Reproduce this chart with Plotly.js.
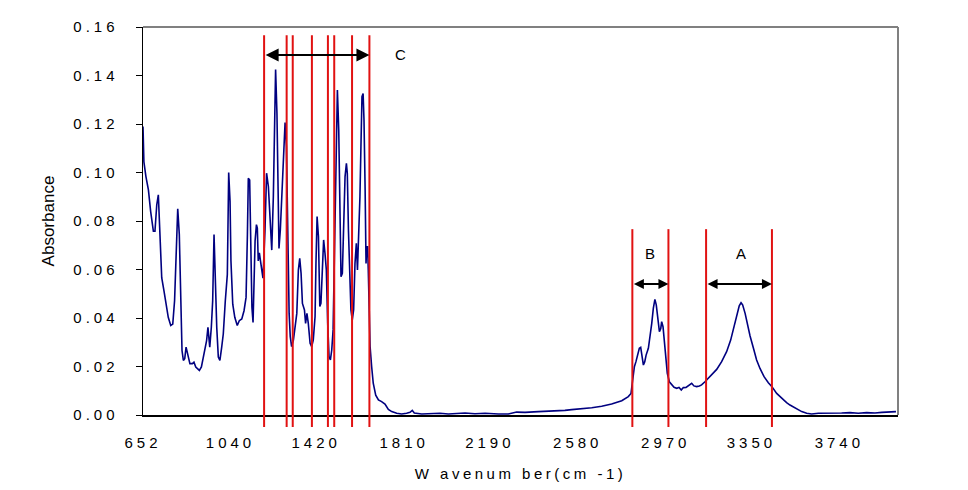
<!DOCTYPE html>
<html>
<head>
<meta charset="utf-8">
<script src="https://cdn.plot.ly/plotly-3.0.1.min.js"></script>
<style>
  html, body { margin: 0; padding: 0; background: #fff; }
  #chart { width: 968px; height: 490px; }
  .xtick text, .ytick text { letter-spacing: 4px; }
  .g-xtitle text { letter-spacing: 3.5px; }
</style>
</head>
<body>
<div id="chart"></div>
<script>
// Spectrum: wavenumber (cm-1) and absorbance
const wavenumber = [
  652,656,665,676,686,698,705,713,720,727,735,745,754,764,775,784,792,801,806,813,
  819,825,831,837,843,850,860,871,878,886,893,902,911,920,928,934,940,948,955,961,
  967,973,979,986,993,1001,1008,1017,1026,1032,1038,1042,1050,1059,1070,1079,1090,1100,1109,1115,
  1119,1125,1129,1135,1140,1144,1149,1155,1159,1163,1168,1172,1178,1184,1193,1200,1208,1214,1223,1230,
  1234,1240,1246,1252,1255,1261,1267,1274,1282,1288,1294,1300,1305,1311,1319,1326,1334,1341,1347,1353,
  1359,1368,1373,1379,1385,1393,1400,1407,1415,1419,1424,1430,1436,1441,1447,1453,1459,1465,1471,1477,
  1483,1489,1495,1501,1508,1514,1520,1526,1530,1536,1542,1548,1554,1558,1563,1569,1574,1580,1586,1592,
  1598,1603,1608,1614,1619,1623,1628,1632,1637,1641,1644,1648,1651,1655,1659,1666,1673,1684,1696,1710,
  1725,1740,1755,1777,1799,1821,1836,1846,1855,1888,1932,1969,2006,2050,2080,2124,2169,2228,2272,2309,
  2346,2405,2464,2523,2553,2597,2642,2686,2730,2775,2804,2816,2823,2831,2838,2846,2853,2859,2865,2871,
  2877,2883,2893,2900,2908,2915,2922,2928,2934,2942,2948,2952,2958,2964,2971,2977,2986,2996,3007,3019,
  3029,3039,3048,3060,3072,3085,3095,3107,3119,3129,3144,3159,3174,3196,3218,3240,3258,3273,3285,3296,
  3304,3311,3322,3332,3344,3359,3373,3388,3406,3425,3441,3462,3484,3506,3521,3529,3551,3573,3595,3617,
  3647,3676,3713,3750,3787,3824,3861,3898,3928,3965,3991
];
const absorbance = [
  0.1190,0.1044,0.0983,0.0928,0.0839,0.0758,0.0758,0.0867,0.0908,0.0758,0.0566,0.0512,0.0457,0.0403,0.0369,0.0375,0.0471,0.0676,0.0850,0.0744,
  0.0471,0.0266,0.0225,0.0232,0.0280,0.0253,0.0212,0.0212,0.0218,0.0198,0.0191,0.0184,0.0198,0.0239,0.0266,0.0307,0.0362,0.0280,0.0362,0.0471,
  0.0744,0.0526,0.0362,0.0239,0.0225,0.0280,0.0334,0.0471,0.0580,0.1000,0.0880,0.0635,0.0457,0.0403,0.0369,0.0389,0.0396,0.0430,0.0485,0.0744,
  0.0976,0.0969,0.0676,0.0444,0.0382,0.0566,0.0717,0.0785,0.0771,0.0635,0.0669,0.0642,0.0600,0.0564,0.0763,0.0997,0.0942,0.0818,0.0680,0.0900,
  0.1175,0.1425,0.1244,0.0763,0.0687,0.0763,0.0900,0.1065,0.1206,0.1107,0.0694,0.0419,0.0323,0.0282,0.0309,0.0351,0.0419,0.0598,0.0646,0.0584,
  0.0460,0.0433,0.0378,0.0419,0.0378,0.0296,0.0282,0.0309,0.0406,0.0625,0.0818,0.0735,0.0447,0.0460,0.0625,0.0722,0.0667,0.0598,0.0378,0.0241,
  0.0227,0.0268,0.0351,0.0625,0.1038,0.1340,0.1175,0.0818,0.0570,0.0584,0.0763,0.0983,0.1038,0.0997,0.0763,0.0543,0.0433,0.0392,0.0433,0.0625,
  0.0708,0.0598,0.0722,0.0900,0.1134,0.1313,0.1326,0.1217,0.0928,0.0625,0.0694,0.0694,0.0598,0.0450,0.0282,0.0199,0.0131,0.0082,0.0062,0.0055,
  0.0045,0.0023,0.0014,0.0007,0.0004,0.0007,0.0011,0.0019,0.0008,0.0004,0.0005,0.0007,0.0004,0.0007,0.0008,0.0005,0.0007,0.0004,0.0004,0.0012,
  0.0011,0.0014,0.0015,0.0019,0.0022,0.0025,0.0030,0.0036,0.0045,0.0059,0.0076,0.0089,0.0131,0.0199,0.0220,0.0247,0.0275,0.0279,0.0247,0.0206,
  0.0220,0.0247,0.0275,0.0316,0.0378,0.0440,0.0477,0.0454,0.0406,0.0344,0.0357,0.0385,0.0364,0.0309,0.0227,0.0172,0.0137,0.0128,0.0114,0.0110,
  0.0114,0.0103,0.0113,0.0114,0.0122,0.0131,0.0120,0.0117,0.0120,0.0124,0.0137,0.0151,0.0165,0.0188,0.0220,0.0261,0.0309,0.0364,0.0412,0.0450,
  0.0463,0.0454,0.0419,0.0371,0.0326,0.0275,0.0227,0.0192,0.0158,0.0133,0.0117,0.0089,0.0069,0.0051,0.0041,0.0037,0.0023,0.0014,0.0007,0.0004,
  0.0007,0.0007,0.0005,0.0008,0.0010,0.0007,0.0010,0.0008,0.0011,0.0011,0.0014
];

// Axis ticks
const xTickValues = [652, 1040, 1420, 1810, 2190, 2580, 2970, 3350, 3740];
const yTickValues = [0, 0.02, 0.04, 0.06, 0.08, 0.10, 0.12, 0.14, 0.16];

// Band boundary markers (cm-1)
const regionCLines = [1189, 1289, 1316, 1401, 1472, 1500, 1579, 1656];
const regionBLines = [2822, 2982];
const regionALines = [3149, 3441];

// Region labels
const regionLabels = [
  { name: 'C', from: regionCLines[0], to: regionCLines[regionCLines.length - 1] },
  { name: 'B', from: regionBLines[0], to: regionBLines[1] },
  { name: 'A', from: regionALines[0], to: regionALines[1] }
];

const RED = 'rgb(225,18,18)';
const shapes = [];
function vline(x, top) {
  shapes.push({
    type: 'line', xref: 'x', yref: 'paper', x0: x, x1: x, y0: -0.031, y1: top,
    line: { color: RED, width: 2 }, layer: 'above'
  });
}
regionCLines.forEach(x => vline(x, 0.979));
regionBLines.concat(regionALines).forEach(x => vline(x, 0.479));
// gray plot-area border on top and right
shapes.push({ type: 'line', xref: 'paper', yref: 'paper', x0: 0, x1: 1, y0: 1, y1: 1,
  line: { color: '#808080', width: 2 } });
shapes.push({ type: 'line', xref: 'paper', yref: 'paper', x0: 1, x1: 1, y0: 0, y1: 1,
  line: { color: '#808080', width: 2 } });

const arrowY = { C: 0.1485, B: 0.054, A: 0.054 };
const labelPos = { C: { x: 1792, y: 0.1485 }, B: { x: 2900, y: 0.0668 }, A: { x: 3304, y: 0.0668 } };
const annotations = [];
regionLabels.forEach(r => {
  const size = r.name === 'C' ? 1.3 : 1.0;
  annotations.push({
    xref: 'x', yref: 'y', axref: 'x', ayref: 'y',
    x: r.to, y: arrowY[r.name], ax: r.from, ay: arrowY[r.name],
    text: '', showarrow: true, arrowside: 'end+start',
    arrowhead: 2, startarrowhead: 2, arrowsize: size, startarrowsize: size,
    arrowwidth: 2, arrowcolor: '#000', standoff: 0, startstandoff: 0
  });
  annotations.push({
    xref: 'x', yref: 'y', x: labelPos[r.name].x, y: labelPos[r.name].y,
    text: r.name, showarrow: false,
    font: { family: 'Liberation Sans, Arial, sans-serif', size: 15, color: '#000' }
  });
});

const trace = {
  x: wavenumber, y: absorbance, type: 'scatter', mode: 'lines',
  line: { color: '#000080', width: 1.6 }, hoverinfo: 'skip'
};

const font = { family: 'Liberation Sans, Arial, sans-serif', size: 15, color: '#000' };
const layout = {
  width: 968, height: 490,
  margin: { l: 143, r: 70, t: 27, b: 75 },
  paper_bgcolor: '#fff', plot_bgcolor: '#fff',
  showlegend: false,
  font: font,
  xaxis: {
    range: [652, 4000], tickmode: 'array', tickvals: xTickValues,
    ticktext: xTickValues.map(String),
    ticks: '', showgrid: false, zeroline: false,
    showline: true, linecolor: '#000', linewidth: 1.5,
    ticklabelstandoff: 13,
    tickfont: font,
    title: { text: 'W avenum ber(cm -1)', font: font, standoff: 19 }
  },
  yaxis: {
    range: [0, 0.16], tickmode: 'array', tickvals: yTickValues,
    ticktext: yTickValues.map(v => v.toFixed(2)),
    ticks: 'outside', ticklen: 6, tickcolor: '#000', tickwidth: 1,
    showgrid: false, zeroline: false,
    showline: true, linecolor: '#000', linewidth: 1.5,
    ticklabelstandoff: 14,
    tickfont: font,
    title: { text: 'Absorbance', font: { family: font.family, size: 17, color: '#000' }, standoff: 14 }
  },
  shapes: shapes,
  annotations: annotations
};

Plotly.newPlot('chart', [trace], layout, { staticPlot: true, displayModeBar: false });
</script>
</body>
</html>
